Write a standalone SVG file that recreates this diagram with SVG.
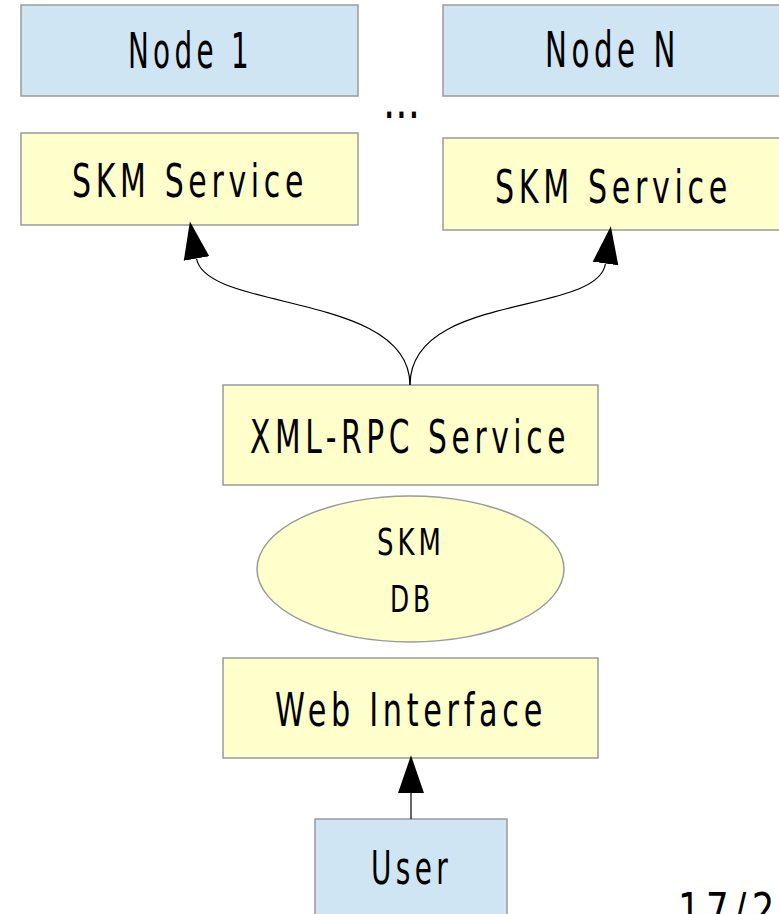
<svg xmlns="http://www.w3.org/2000/svg" width="779" height="914" viewBox="0 0 779 914">
  <style>
    .box { stroke: #9a9a9a; stroke-width: 1.5; }
    .blue { fill: #cfe5f3; }
    .yellow { fill: #ffffcc; }
    .label { font-family: "DejaVu Sans Condensed", "DejaVu Sans", sans-serif; letter-spacing: 0.14em; fill: #000; }
    .dots { font-family: "DejaVu Sans Condensed", "DejaVu Sans", sans-serif; fill: #000; }
    .wire { fill: none; stroke: #000; stroke-width: 1.2; }
  </style>
  <defs>
    <marker id="head" markerUnits="userSpaceOnUse" markerWidth="40" markerHeight="30" viewBox="0 -12 34 24" refX="0" refY="0" orient="auto">
      <path d="M0,-11 L32,0 L0,11 z" fill="#000"/>
    </marker>
  </defs>
  <rect width="779" height="914" fill="#ffffff"/>

  <g id="node-1">
    <rect class="box blue" x="21" y="5" width="337" height="91"/>
    <text class="label" x="128" y="68" font-size="49" textLength="125" lengthAdjust="spacingAndGlyphs">Node 1</text>
  </g>
  <g id="node-n">
    <rect class="box blue" x="443" y="5" width="345" height="91"/>
    <text class="label" x="545" y="67" font-size="49" textLength="135" lengthAdjust="spacingAndGlyphs">Node N</text>
  </g>
  <g id="ellipsis">
    <text class="dots" x="383" y="118" font-size="52" textLength="37" lengthAdjust="spacingAndGlyphs">...</text>
  </g>
  <g id="skm-service-1">
    <rect class="box yellow" x="21" y="133" width="337" height="92"/>
    <text class="label" x="72" y="197" font-size="46" textLength="236" lengthAdjust="spacingAndGlyphs">SKM Service</text>
  </g>
  <g id="skm-service-n">
    <rect class="box yellow" x="443" y="138" width="345" height="92"/>
    <text class="label" x="495" y="203" font-size="46" textLength="237" lengthAdjust="spacingAndGlyphs">SKM Service</text>
  </g>
  <g id="xmlrpc-service">
    <rect class="box yellow" x="223" y="385" width="375" height="100"/>
    <text class="label" x="250" y="453" font-size="47" textLength="320" lengthAdjust="spacingAndGlyphs">XML-RPC Service</text>
  </g>
  <g id="skm-db">
    <ellipse class="box yellow" cx="410.5" cy="569" rx="153.5" ry="73" stroke-width="1.2"/>
    <text class="label" x="377" y="555" font-size="38" textLength="68" lengthAdjust="spacingAndGlyphs">SKM</text>
    <text class="label" x="390" y="612" font-size="38" textLength="44" lengthAdjust="spacingAndGlyphs">DB</text>
  </g>
  <g id="web-interface">
    <rect class="box yellow" x="223" y="658" width="375" height="100"/>
    <text class="label" x="275" y="726" font-size="46" textLength="272" lengthAdjust="spacingAndGlyphs">Web Interface</text>
  </g>
  <g id="user">
    <rect class="box blue" x="315" y="819" width="192" height="110"/>
    <text class="label" x="371" y="884" font-size="46" textLength="81" lengthAdjust="spacingAndGlyphs">User</text>
  </g>
  <g id="page-number">
    <text class="label" x="678" y="926" font-size="46" textLength="130" lengthAdjust="spacingAndGlyphs">17/20</text>
  </g>

  <g id="connectors">
    <path class="wire" d="M410,385 C410,292 206,312 196.5,258.5" marker-end="url(#head)"/>
    <path class="wire" d="M410,385 C410,292 598,316 605.5,263.5" marker-end="url(#head)"/>
    <path class="wire" d="M411,819 L411,793" marker-end="url(#head)"/>
  </g>
</svg>
